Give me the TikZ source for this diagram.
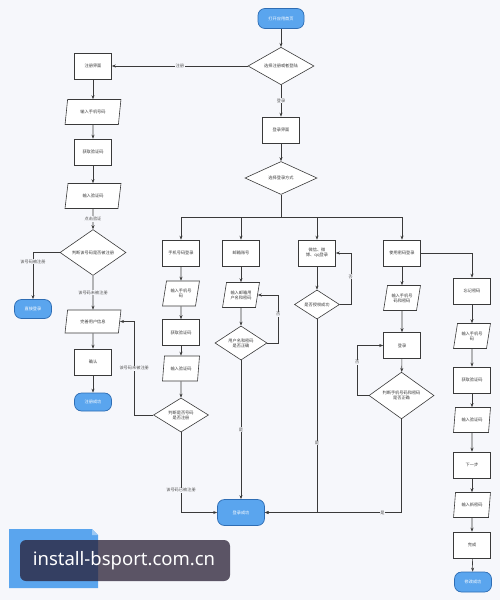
\documentclass[tikz,border=0pt]{standalone}
\usepackage{fontspec}
\setmainfont{Noto Sans CJK SC}
\newfontfamily\wmfont{Noto Sans}
\usetikzlibrary{shapes.geometric,arrows.meta}
\definecolor{bg}{HTML}{F6F7FB}
\definecolor{ln}{HTML}{3A3A3A}
\definecolor{tblue}{HTML}{5AA5EE}
\definecolor{tborder}{HTML}{2E6DB4}
\definecolor{lbltext}{HTML}{555555}
\definecolor{wmdark}{RGB}{40,30,52}
\tikzset{
 base/.style={font=\fontsize{4.2}{5}\selectfont, align=center, inner sep=0pt, text=ln},
 proc/.style={base, draw=ln, line width=0.6pt, fill=white, minimum width=37pt, minimum height=26pt},
 io/.style={base, draw=ln, line width=0.6pt, fill=white, trapezium, trapezium left angle=72, trapezium right angle=108, trapezium stretches=true, minimum width=37pt, minimum height=25pt},
 dec/.style={base, draw=ln, line width=0.6pt, fill=white, diamond},
 term/.style={base, draw=tborder, line width=0.7pt, fill=tblue, rounded corners=7pt, text=white, minimum width=37pt, minimum height=19pt},
 arr/.style={draw=ln, line width=0.6pt, -{Stealth[length=4pt,width=3pt]}},
 conn/.style={draw=ln, line width=0.6pt},
 lbl/.style={base, fill=bg, inner sep=0.6pt, text=lbltext},
}
\begin{document}
\begin{tikzpicture}[x=1pt,y=-1pt]
\useasboundingbox (0,0) rectangle (500,600);
\fill[bg] (0,0) rectangle (500,600);

% top
\node[term, minimum width=46pt, minimum height=20pt] (start) at (281,18.5) {打开应用首页};
\node[dec, minimum width=66pt, minimum height=36pt] (d1) at (281,66) {选择注册或者登陆};

% register column
\node[proc] (reg) at (93,66) {注册界面};
\node[io, minimum width=56pt] (r2) at (93,112) {输入手机号码};
\node[proc] (r3) at (93,152) {获取验证码};
\node[io, minimum width=56pt] (r4) at (93,196) {输入验证码};
\node[dec, minimum width=66pt, minimum height=29pt] (d2) at (93,252.5) {判断该号码是否被注册};
\node[term] (t1) at (33,309) {直接登录};
\node[io, minimum width=56pt, minimum height=23pt] (r5) at (93,321.5) {完善用户信息};
\node[proc] (r6) at (93,362) {确认};
\node[term, minimum height=18pt] (t2) at (93,402) {注册成功};

% login
\node[proc] (li) at (281,130) {登录界面};
\node[dec, minimum width=72pt, minimum height=33pt] (d4) at (281,178) {选择登录方式};
\coordinate (bm) at (281,217);
\coordinate (b1) at (181,217);
\coordinate (b2) at (241,217);
\coordinate (b3) at (317,217);
\coordinate (b4) at (402,217);

% phone column
\node[proc] (m1) at (181,253) {手机号码登录};
\node[io] (m2) at (181,293.5) {输入手机号\\码};
\node[proc] (m3) at (181,332.5) {获取验证码};
\node[io] (m4) at (181,368.5) {输入验证码};
\node[dec, minimum width=55pt, minimum height=32pt] (d5) at (181,415) {判断是否号码\\是否注册};

% mail column
\node[proc] (e1) at (241,253) {邮箱账号};
\node[io] (e2) at (241,295) {输入邮箱用\\户名和密码};
\node[dec, minimum width=52pt, minimum height=32pt] (d6) at (241,343) {用户名和密码\\是否正确};
\node[term, minimum width=47pt, minimum height=26pt] (ok) at (241,512.5) {登录成功};

% social column
\node[proc] (w1) at (317,253) {微信、微\\博、qq登录};
\node[dec, minimum width=45pt, minimum height=27pt] (d7) at (317,304.5) {是否授权成功};

% password column
\node[proc] (pw1) at (402,253) {使用密码登录};
\node[io] (pw2) at (402,298) {输入手机号\\码和密码};
\node[proc] (pw3) at (402,345.5) {登录};
\node[dec, minimum width=65pt, minimum height=39pt] (d8) at (401.5,395.5) {判断手机号码和密码\\是否正确};

% forget column
\node[proc] (f1) at (472,291) {忘记密码};
\node[io] (f2) at (472,336) {输入手机号\\码};
\node[proc] (f3) at (472,380) {获取验证码};
\node[io] (f4) at (472,420) {输入验证码};
\node[proc] (f5) at (472,465) {下一步};
\node[io] (f6) at (472,505) {输入新密码};
\node[proc] (f7) at (472,545) {完成};
\node[term, minimum width=37pt, minimum height=20pt] (t3) at (473,582) {修改成功};

% connectors top
\draw[arr] (start) -- (d1);
\draw[arr] (d1.west) -- node[lbl]{注册} (reg.east);
\draw[arr] (d1.south) -- node[lbl]{登录} (li.north);

% register connectors
\draw[arr] (reg) -- (r2);
\draw[arr] (r2) -- (r3);
\draw[arr] (r3) -- (r4);
\draw[arr] (r4) -- node[lbl]{点击验证} (d2);
\draw[arr] (d2.west) -| node[lbl, pos=0.6]{该号码被注册} (t1.north);
\draw[arr] (d2.south) -- node[lbl]{该号码未被注册} (r5.north);
\draw[arr] (r5) -- (r6);
\draw[arr] (r6) -- (t2);

% login connectors
\draw[arr] (li) -- (d4);
\draw[conn] (d4.south) -- (bm);
\draw[conn] (b1) -- (b4);
\draw[arr] (b1) -- (m1.north);
\draw[arr] (b2) -- (e1.north);
\draw[arr] (b3) -- (w1.north);
\draw[arr] (b4) -- (pw1.north);

% phone
\draw[arr] (m1) -- (m2);
\draw[arr] (m2) -- (m3);
\draw[arr] (m3) -- (m4);
\draw[arr] (m4) -- (d5);
\draw[arr] (d5.west) -- ++(-19,0) |- node[lbl, pos=0.25]{该号码未被注册} (r5.east);
\draw[arr] (d5.south) |- node[lbl, pos=0.36]{该号码已被注册} (ok.west);

% mail
\draw[arr] (e1) -- (e2);
\draw[arr] (e2) -- (d6);
\draw[arr] (d6.east) -- ++(11,0) |- node[lbl, pos=0.3]{否} (e2.east);
\draw[arr] (d6.south) -- node[lbl]{是} (ok.north);

% social
\draw[arr] (w1) -- (d7);
\draw[arr] (d7.east) -- ++(11,0) |- node[lbl, pos=0.27]{否} (w1.east);
\draw[arr] (d7.south) |- node[lbl, pos=0.32]{是} (ok.east);

% password
\draw[arr] (pw1) -- (pw2);
\draw[arr] (pw2) -- (pw3);
\draw[arr] (pw3) -- (d8);
\draw[arr] (d8.west) -- ++(-11.5,0) |- node[lbl, pos=0.33]{否} (pw3.west);
\draw[arr] (d8.south) |- node[lbl, pos=0.57]{是} (ok.east);
\draw[arr] (pw1.east) -| (f1.north);

% forget
\draw[arr] (f1) -- (f2);
\draw[arr] (f2) -- (f3);
\draw[arr] (f3) -- (f4);
\draw[arr] (f4) -- (f5);
\draw[arr] (f5) -- (f6);
\draw[arr] (f6) -- (f7);
\draw[arr] (f7) -- (t3);

% note box bottom-left
\fill[tblue] (9,529) -- (92,529) -- (98,535) -- (98,588) -- (9,588) -- cycle;
\fill[tblue!60!white] (92,529) -- (92,535) -- (98,535) -- cycle;

% overlay
\fill[wmdark, fill opacity=0.75, rounded corners=6pt] (20,540) rectangle (230,581);
\node[font=\wmfont\fontsize{18.5}{22}\selectfont, text=white, inner sep=0pt] (wm) at (124,561) {install-bsport.com.cn};
\end{tikzpicture}
\end{document}
